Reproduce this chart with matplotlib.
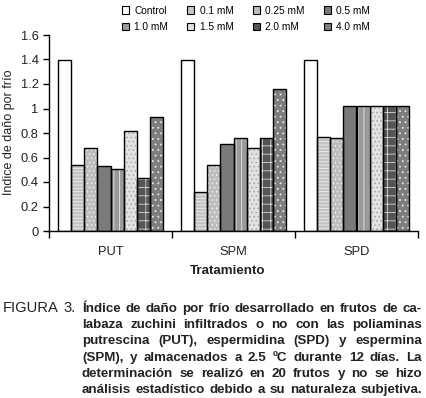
import matplotlib
matplotlib.use('Agg')
import matplotlib.pyplot as plt
from matplotlib.patches import Patch
import numpy as np

plt.rcParams['font.family'] = ['Liberation Sans', 'DejaVu Sans']
plt.rcParams['hatch.linewidth'] = 0.6

groups = ['PUT', 'SPM', 'SPD']
series = ['Control', '0.1 mM', '0.25 mM', '0.5 mM', '1.0 mM', '1.5 mM', '2.0 mM', '4.0 mM']
put = [1.40, 0.54, 0.68, 0.53, 0.51, 0.82, 0.43, 0.93]
spm = [1.40, 0.32, 0.54, 0.71, 0.76, 0.68, 0.76, 1.16]
spd = [1.40, 0.77, 0.76, 1.02, 1.02, 1.02, 1.02, 1.02]

# fill colour, hatch, hatch colour for each concentration
fills = ['white', '#c4c4c4', '#bdbdbd', '#7a7a7a', '#9a9a9a', '#e2e2e2', '#555555', '#7e7e7e']
hatches = [None, '-----', '....', None, '|||', '....', '++', '...']
hcolors = ['white', '#ececec', '#f0f0f0', '#7a7a7a', '#e6e6e6', '#a8a8a8', '#d8d8d8', '#e8e8e8']

W, H = 426, 398
fig = plt.figure(figsize=(W / 100, H / 100), dpi=100)
ax = fig.add_axes([49 / W, 1 - 231 / H, (418 - 49) / W, (231 - 35) / H])

data = np.array([put, spm, spd])
w = 0.107
x = np.arange(len(groups))
for j in range(len(series)):
    pos = x + (j - 3.5) * w
    ax.bar(pos, data[:, j], w, color=fills[j], hatch=hatches[j],
           edgecolor=hcolors[j], linewidth=0, zorder=2)
    ax.bar(pos, data[:, j], w, facecolor='none', edgecolor='black',
           linewidth=1, zorder=3)

ax.set_xlim(-0.5, 2.5)
ax.set_ylim(0, 1.6)
ax.set_yticks(np.arange(0, 1.61, 0.2))
ax.set_yticklabels(['%g' % v for v in np.arange(0, 1.61, 0.2).round(1)])
ax.set_xticks(x)
ax.set_xticklabels(groups)
ax.set_xticks([-0.5, 0.5, 1.5, 2.5], minor=True)
ax.tick_params(axis='x', which='major', length=0, pad=11, labelsize=9.3, colors='#222222')
ax.tick_params(axis='x', which='minor', length=5, width=1, direction='out')
ax.tick_params(axis='y', length=4, width=1, direction='out', labelsize=9.3, labelcolor='#222222')
for s in ['top', 'right']:
    ax.spines[s].set_visible(False)
for s in ['left', 'bottom']:
    ax.spines[s].set_linewidth(1)

fig.text(9 / W, 1 - 132 / H, 'Indice de daño por frío', rotation=90,
         ha='center', va='center', fontsize=9, color='#222222')
fig.text(228 / W, 1 - 271 / H, 'Tratamiento', ha='center', va='center',
         fontsize=9.6, fontweight='bold', color='#222222')

# legend filled row by row (matplotlib fills column by column)
handles = [Patch(facecolor=fills[j], edgecolor='black', linewidth=0.8) for j in range(len(series))]
order = [0, 4, 1, 5, 2, 6, 3, 7]
fig.legend([handles[k] for k in order], [series[k] for k in order], ncol=4,
           loc='upper left', bbox_to_anchor=(117 / W, 1 - 0.5 / H),
           frameon=False, fontsize=7.3, handlelength=0.7, handleheight=0.7,
           handletextpad=0.5, columnspacing=1.9, labelspacing=0.6, borderpad=0)

# caption, justified line by line
caption = [
    'Índice de daño por frío desarrollado en frutos de ca-',
    'labaza zuchini infiltrados o no con las poliaminas',
    'putrescina (PUT), espermidina (SPD) y espermina',
    '(SPM), y almacenados a 2.5 ºC durante 12 días. La',
    'determinación se realizó en 20 frutos y no se hizo',
    'análisis estadístico debido a su naturaleza subjetiva.',
]
renderer = fig.canvas.get_renderer()
csize = 9.6
x0, x1 = 82, 422


def justify(line, y):
    words = line.split()
    texts = [fig.text(0, 1 - y / H, wd, fontsize=csize, fontweight='bold',
                      color='#222222', va='baseline') for wd in words]
    widths = [t.get_window_extent(renderer).width for t in texts]
    gap = (x1 - x0 - sum(widths)) / (len(words) - 1)
    xp = x0
    for t, wd in zip(texts, widths):
        t.set_x(xp / W)
        xp += wd + gap


fig.text(3 / W, 1 - 312 / H, 'FIGURA', fontsize=10.6, color='#222222', va='baseline')
fig.text(64 / W, 1 - 312 / H, '3.', fontsize=10.6, color='#222222', va='baseline')
for i, line in enumerate(caption):
    justify(line, 312 + 16.2 * i)

fig.savefig('out.png', dpi=100)
